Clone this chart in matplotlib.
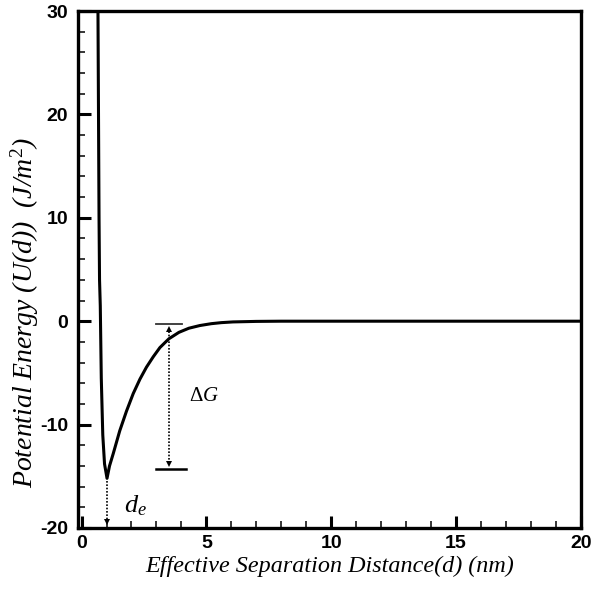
import matplotlib
matplotlib.use("Agg")
import matplotlib.pyplot as plt
from matplotlib.ticker import MultipleLocator

# Interaction potential vs. effective separation distance
distance_nm = [0.655, 0.70, 0.72, 0.75, 0.79, 0.85, 0.92, 1.02, 1.12, 1.27,
               1.53, 1.80, 2.07, 2.34, 2.60, 2.87, 3.14, 3.50, 3.90, 4.30,
               4.74, 5.20, 5.60, 6.07, 7.00, 8.00, 20.0]
energy = [31.0, 10.0, 4.0, 1.5, -5.5, -11.0, -13.8, -15.2, -14.0, -12.8,
          -10.6, -8.7, -7.0, -5.6, -4.45, -3.45, -2.55, -1.7, -1.08, -0.68,
          -0.42, -0.24, -0.14, -0.07, -0.02, 0.0, 0.0]

# Equilibrium separation and well depth markers
d_eq = 1.02
u_min = -15.2
dg_x = 3.5
dg_top = -0.3
dg_bottom = -14.3

x_ticks = [0, 5, 10, 15, 20]
y_ticks = [-20, -10, 0, 10, 20, 30]

plt.rcParams['mathtext.fontset'] = 'custom'
plt.rcParams['mathtext.rm'] = 'Liberation Serif'
plt.rcParams['mathtext.it'] = 'Liberation Serif:italic'
plt.rcParams['axes.unicode_minus'] = False

fig = plt.figure(figsize=(6.08, 5.89), dpi=100)
ax = fig.add_axes([0.128, 0.1036, 0.827, 0.8777])

ax.plot(distance_nm, energy, color='black', lw=2.2,
        solid_joinstyle='round', solid_capstyle='round')

# Delta G bracket
ax.plot([2.97, 4.03], [dg_top, dg_top], color='#333333', lw=1.3)
ax.plot([2.97, 4.18], [dg_bottom, dg_bottom], color='black', lw=1.8)
ax.plot([dg_x, dg_x], [dg_top - 0.4, dg_bottom + 0.4], color='black',
        lw=1.2, ls=(0, (1, 1)))
ax.plot([dg_x], [dg_top - 0.5], marker='^', color='black', ms=4, mew=0)
ax.plot([dg_x], [dg_bottom + 0.5], marker='v', color='black', ms=4, mew=0)
ax.text(4.3, -7.1, r'$\Delta G$', fontsize=15, ha='left', va='center')

# Equilibrium distance marker
ax.plot([d_eq, d_eq], [u_min - 0.3, -19.5], color='black', lw=1.2,
        ls=(0, (1, 1)))
ax.plot([d_eq], [-19.45], marker='v', color='black', ms=4, mew=0)
ax.text(1.7, -17.8, r'$d_e$', fontsize=19, ha='left', va='center')

ax.set_xlim(-0.15, 20)
ax.set_ylim(-20, 30)
ax.set_xticks(x_ticks)
ax.set_yticks(y_ticks)
ax.xaxis.set_minor_locator(MultipleLocator(1))
ax.yaxis.set_minor_locator(MultipleLocator(2))

ax.tick_params(which='major', direction='in', length=9, width=2.2)
ax.tick_params(which='minor', direction='in', length=5, width=1.1)
ax.tick_params(axis='x', which='major', pad=5)
ax.tick_params(axis='y', which='major', pad=7)
for lab in ax.get_xticklabels() + ax.get_yticklabels():
    lab.set_fontfamily('Liberation Sans')
    lab.set_fontweight('bold')
    lab.set_fontsize(14)

for sp in ax.spines.values():
    sp.set_linewidth(2.4)

ax.set_xlabel('Effective Separation Distance(d) (nm)', fontsize=17.4,
              family='Liberation Serif', style='italic', labelpad=3)
fig.text(0.041, 0.47, r'Potential Energy (U(d))  (J/m$^2$)', fontsize=20,
         family='Liberation Serif', style='italic', rotation=90,
         ha='center', va='center')

fig.savefig('out.png', dpi=100)
